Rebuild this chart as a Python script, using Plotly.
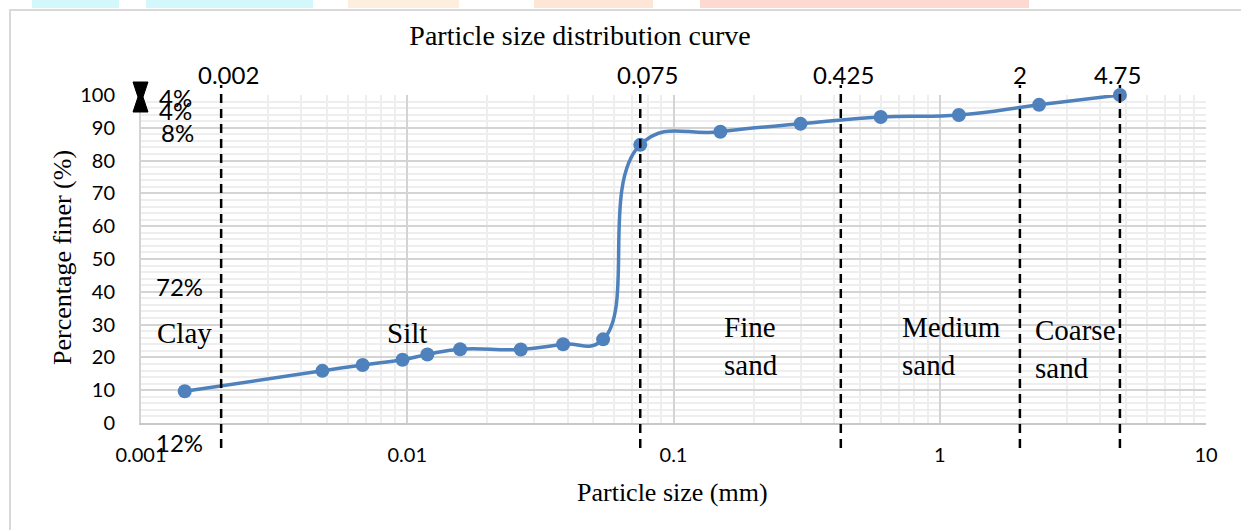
import math
import plotly.graph_objects as go

# ---------------- data ----------------
size_mm = [0.00146, 0.0048, 0.0068, 0.0096, 0.0119, 0.0158, 0.0267, 0.0385, 0.0544,
           0.075, 0.150, 0.300, 0.600, 1.18, 2.36, 4.75]
percent_finer = [9.7, 15.9, 17.7, 19.3, 20.9, 22.5, 22.4, 24.0, 25.5,
                 84.8, 88.8, 91.2, 93.3, 93.9, 97.0, 100.0]

boundaries = [0.002, 0.075, 0.425, 2, 4.75]
boundary_labels = ["0.002", "0.075", "0.425", "2", "4.75"]

x_tickvals = [0.001, 0.01, 0.1, 1, 10]
x_ticktext = ["0.001", "0.01", "0.1", "1", "10"]
y_tickvals = [0, 10, 20, 30, 40, 50, 60, 70, 80, 90, 100]

region_labels = ["Clay", "Silt", "Fine<br>sand", "Medium<br>sand", "Coarse<br>sand"]
percent_labels = ["4%", "4%", "8%", "72%", "12%"]

# ---------------- layout helpers (pixel -> paper) ----------------
W, H = 1241, 530
PL, PR, PT, PB = 141, 1206, 95, 423


def px(x):
    return (x - PL) / (PR - PL)


def py(y):
    return (PB - y) / (PB - PT)


SERIF = "Liberation Serif, Times New Roman, serif"
SANS = "Lato, Carlito, Calibri, sans-serif"
BLUE = "rgb(79,129,189)"

fig = go.Figure()
fig.add_trace(go.Scatter(
    x=size_mm, y=percent_finer, mode="lines+markers",
    line=dict(color=BLUE, width=3.5, shape="spline", smoothing=1.3),
    marker=dict(color=BLUE, size=14),
    cliponaxis=False, showlegend=False, hoverinfo="x+y"))

shapes = []
# outer light frame of the chart area
shapes.append(dict(type="rect", xref="paper", yref="paper",
                   x0=px(10), x1=px(1300), y0=py(600), y1=py(10),
                   line=dict(color="#d9d9d9", width=2), fillcolor="rgba(0,0,0,0)", layer="below"))
# faint coloured banner blobs at the very top
for x0, x1, col in [(32, 119, "#d3f8fb"), (146, 313, "#d3f8fb"), (348, 459, "#fdeedd"),
                    (534, 653, "#fde6d6"), (700, 1029, "#fdd9d2")]:
    shapes.append(dict(type="rect", xref="paper", yref="paper",
                       x0=px(x0), x1=px(x1), y0=py(8), y1=py(0),
                       line=dict(width=0), fillcolor=col, layer="below"))
# dashed boundary lines
for b in boundaries:
    shapes.append(dict(type="line", xref="x", yref="paper", x0=b, x1=b,
                       y0=py(448), y1=py(85),
                       line=dict(color="black", width=2.5, dash="9px,6px")))
# hourglass double-arrow marker near top-left
hx = [133, 148, 143, 148, 133, 138]
hy = [82, 82, 97, 112, 112, 97]
path = "M " + " L ".join(f"{px(a):.5f},{py(b):.5f}" for a, b in zip(hx, hy)) + " Z"
shapes.append(dict(type="path", xref="paper", yref="paper", path=path,
                   fillcolor="black", line=dict(color="black", width=1)))

annotations = []
# boundary size labels above dashed lines
for b, t, sh in zip(boundaries, boundary_labels, [7, 7, 3, 0, -2]):
    annotations.append(dict(x=math.log10(b), xref="x", y=py(75), yref="paper",
                            text=t, showarrow=False, xshift=sh,
                            font=dict(family=SANS, size=24, color="black"),
                            xanchor="center", yanchor="middle"))
# soil region labels
region_pos = [(184, 333, "center"), (407, 333, "center"), (722, 346, "left"),
              (900, 346, "left"), (1033, 349, "left")]
for t, (x, y, anc) in zip(region_labels, region_pos):
    annotations.append(dict(x=px(x), y=py(y), xref="paper", yref="paper", text=t,
                            showarrow=False, xanchor=anc, yanchor="middle", align="left",
                            font=dict(family=SERIF, size=29, color="black")))
# percentage labels
pct_pos = [(175, 97), (175, 110), (177, 132), (179, 286), (179, 442)]
for t, (x, y) in zip(percent_labels, pct_pos):
    annotations.append(dict(x=px(x), y=py(y), xref="paper", yref="paper", text=t,
                            showarrow=False, xanchor="center", yanchor="middle",
                            font=dict(family=SANS, size=24, color="black")))
# axis titles
annotations.append(dict(x=px(672), y=py(492), xref="paper", yref="paper",
                        text="Particle size (mm)", showarrow=False,
                        xanchor="center", yanchor="middle",
                        font=dict(family=SERIF, size=26, color="black")))
annotations.append(dict(x=px(62), y=py(258), xref="paper", yref="paper",
                        text="Percentage finer (%)", showarrow=False, textangle=-90,
                        xanchor="center", yanchor="middle",
                        font=dict(family=SERIF, size=26, color="black")))

fig.update_layout(
    width=W, height=H, autosize=False,
    margin=dict(l=PL, r=W - PR, t=PT, b=H - PB),
    paper_bgcolor="white", plot_bgcolor="white",
    title=dict(text="Particle size distribution curve", x=580 / W, xanchor="center",
               y=1 - 35 / H, yanchor="middle", yref="container",
               font=dict(family=SERIF, size=28, color="black")),
    shapes=shapes, annotations=annotations, showlegend=False,
)
fig.update_xaxes(type="log", range=[-3, 1], tickvals=x_tickvals, ticktext=x_ticktext,
                 showgrid=True, gridcolor="#d4d4d4", gridwidth=2,
                 minor=dict(showgrid=True, dtick="D1", gridcolor="#eeeeee", gridwidth=2),
                 showline=True, linecolor="#c8c8c8", linewidth=2,
                 ticks="", ticklabelstandoff=13, zeroline=False,
                 tickfont=dict(family=SANS, size=20, color="black"))
fig.update_yaxes(range=[0, 100], tickvals=y_tickvals,
                 showgrid=True, gridcolor="#d4d4d4", gridwidth=2,
                 minor=dict(showgrid=True, dtick=2, gridcolor="#eeeeee", gridwidth=2),
                 showline=True, linecolor="#d4d4d4", linewidth=2, zeroline=False,
                 ticks="", ticklabelstandoff=20,
                 tickfont=dict(family=SANS, size=20, color="black"))

fig.write_html("out.html", config={"displayModeBar": False},
               post_script="document.body.style.margin='0';document.body.style.overflow='hidden';")
